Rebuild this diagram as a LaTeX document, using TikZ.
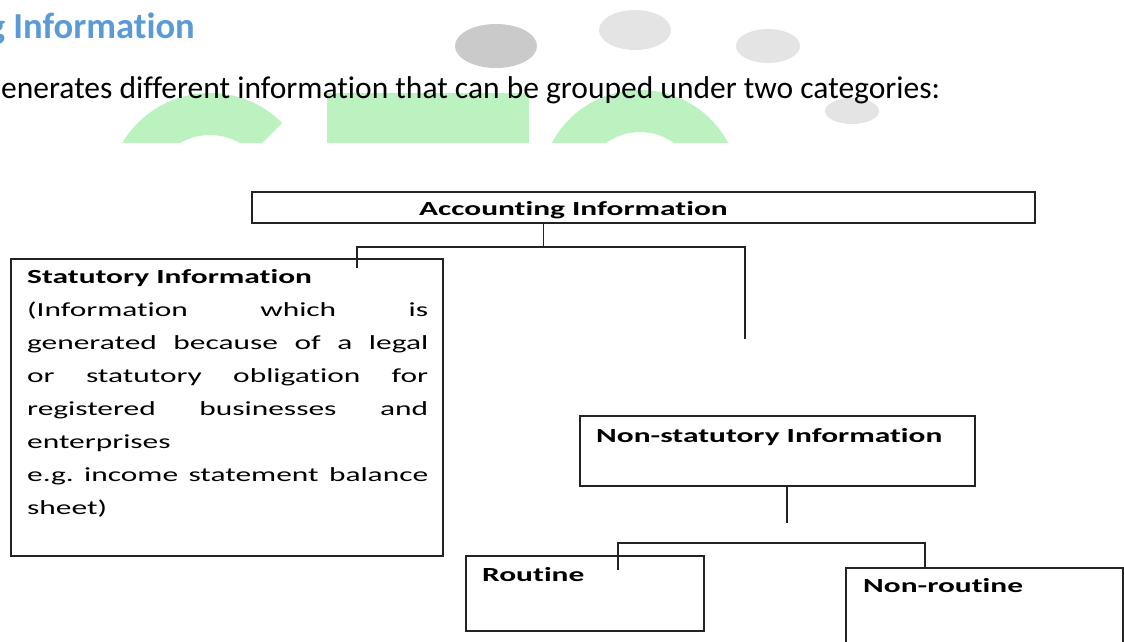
\documentclass[tikz,border=0pt]{standalone}
\usepackage{fontspec}
\setmainfont[Ligatures=NoCommon]{Carlito}
\newfontfamily\diagfont[FakeStretch=1.57,Ligatures=NoCommon]{Carlito}
\definecolor{headblue}{RGB}{91,155,213}
\definecolor{wmgreen}{RGB}{188,242,192}
\definecolor{wmgrey}{RGB}{202,202,202}
\definecolor{wmlight}{RGB}{228,228,228}
\definecolor{lineink}{RGB}{35,35,35}
\begin{document}
\begin{tikzpicture}[x=1pt,y=-1pt,
  box/.style={draw=lineink, line width=1.4pt, rectangle, inner sep=0pt, outer sep=0pt, anchor=north west},
  conn/.style={draw=lineink, line width=1.4pt},
  lbl/.style={inner sep=0pt, anchor=base west, font=\diagfont\fontsize{20}{33}\selectfont\bfseries},
  bodytxt/.style={inner sep=0pt, anchor=base west, font=\diagfont\fontsize{20}{33}\selectfont}
]
\useasboundingbox (0,0) rectangle (1124,641);
\clip (0,0) rectangle (1124,641);
% watermark
\begin{scope}
  \clip (0,0) rectangle (1124,142);
  \fill[wmgreen] (210,195) ++(45:102pt) arc[start angle=45, end angle=180, radius=102pt]
     -- ++(42pt,0pt) arc[start angle=180, end angle=45, radius=60pt] -- cycle;
  \fill[wmgreen] (327,93) rectangle (529,150);
  \fill[wmgreen, even odd rule] (640,190) circle[radius=100pt] (640,190) circle[radius=58pt];
\end{scope}
\fill[wmgrey] (496,46) ellipse[x radius=41pt, y radius=22pt];
\fill[wmlight] (635,30) ellipse[x radius=36pt, y radius=20pt];
\fill[wmlight] (768,46) ellipse[x radius=32pt, y radius=17pt];
\fill[wmlight] (852,111) ellipse[x radius=27pt, y radius=13pt];
% heading text
\node[anchor=base east, inner sep=0pt, text=headblue, font=\fontsize{36.6}{40}\selectfont\bfseries] (title) at (195,38) {g Information};
\node[anchor=base west, inner sep=0pt, font=\fontsize{31.5}{36}\selectfont] (intro) at (1,98) {enerates different information that can be grouped under two categories:};
% boxes
\node[box, minimum width=783pt, minimum height=31pt] (acc) at (252,192) {};
\node[box, minimum width=432pt, minimum height=297pt] (stat) at (11,259) {};
\node[box, minimum width=395pt, minimum height=70pt] (ns) at (580,416) {};
\node[box, minimum width=238pt, minimum height=75pt] (rt) at (466,556) {};
\node[box, minimum width=277pt, minimum height=140pt] (nr) at (846,568) {};
% texts
\node[lbl] (acctext) at (419,215) {Accounting Information};
\node[bodytxt] (stattext) at (27,283) {\vtop{\hsize=401pt\baselineskip=33pt
  \hbox{\bfseries Statutory Information}
  \hbox to 401pt{(Information\hfill which\hfill is}
  \hbox to 401pt{generated\hfill because\hfill of\hfill a\hfill legal}
  \hbox to 401pt{or\hfill statutory\hfill obligation\hfill for}
  \hbox to 401pt{registered\hfill businesses\hfill and}
  \hbox{enterprises}
  \hbox to 401pt{e.g.\hfill income\hfill statement\hfill balance}
  \hbox{sheet)}}};
\node[lbl] (nstext) at (596,442) {Non-statutory Information};
\node[lbl] (rtext) at (482,581) {Routine};
\node[lbl] (nrtext) at (863,592) {Non-routine};
% connectors
\coordinate (j1) at (543.6,247);
\coordinate (j1l) at (357,247);
\coordinate (j1r) at (745,247);
\coordinate (statin) at (357,268);
\coordinate (nsend) at (745,339);
\draw[conn] (acc.south -| j1) -- (j1);
\draw[conn] (statin) -- (j1l) -- (j1r) -- (nsend);
\coordinate (k0) at (787,523);
\coordinate (k1l) at (618,543);
\coordinate (k1r) at (925,543);
\coordinate (rtin) at (618,570);
\draw[conn] (ns.south -| k0) -- (k0);
\draw[conn] (rtin) -- (k1l) -- (k1r) -- (nr.north -| k1r);
\end{tikzpicture}
\end{document}
